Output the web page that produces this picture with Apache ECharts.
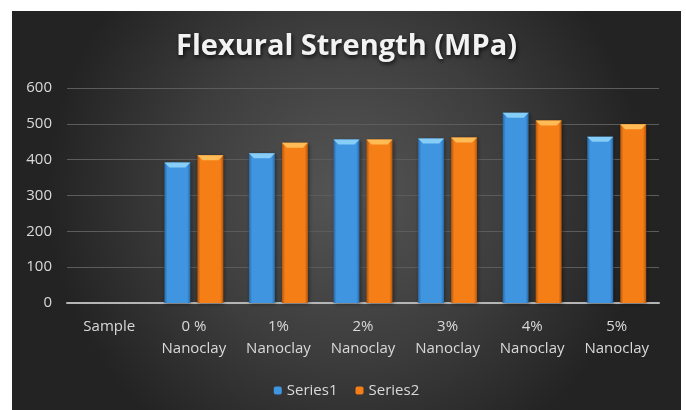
<!DOCTYPE html>
<html>
<head>
<meta charset="utf-8">
<script src="https://cdn.jsdelivr.net/npm/echarts@6/dist/echarts.min.js"></script>
<style>
  html, body { margin: 0; padding: 0; background: #ffffff; }
  #chart { position: absolute; left: 12px; top: 11px; width: 669px; height: 399px; }
</style>
</head>
<body>
<div id="chart"></div>
<script>
// Sample groups along the x axis
const categories = ['Sample', '0 %\nNanoclay', '1%\nNanoclay', '2%\nNanoclay', '3%\nNanoclay', '4%\nNanoclay', '5%\nNanoclay'];
// Flexural strength (MPa) for each group
const series1 = ['-', 392, 418, 456, 459, 531, 464];
const series2 = ['-', 412, 447, 456, 462, 509, 499];
const seriesNames = ['Series1', 'Series2'];
const yTicks = { min: 0, max: 600, interval: 100 };

const palette = [
  { body: '#3f95e0', edge: '#2a68a3', top: '#86cdf7' },
  { body: '#f57e17', edge: '#b2560c', top: '#ffbb55' }
];

const chart = echarts.init(document.getElementById('chart'));

// One bevelled column per data point, placed through the category/value scales
function makeRender(idx) {
  return function (params, api) {
    const v = api.value(1);
    if (v === '-' || v == null || isNaN(v)) return null;
    const cat = api.value(0);
    const top = api.coord([cat, v]);
    const base = api.coord([cat, 0]);
    const barW = 26, gap = 7;
    const cx = top[0] + (idx === 0 ? -(barW + gap) / 2 : (barW + gap) / 2);
    const x0 = cx - barW / 2;
    const h = base[1] - top[1];
    const c = palette[idx];
    const bevel = 5;
    return {
      type: 'group',
      children: [
        {
          type: 'rect',
          shape: { x: x0, y: top[1], width: barW, height: h },
          style: {
            fill: new echarts.graphic.LinearGradient(0, 0, 1, 0, [
              { offset: 0, color: c.edge },
              { offset: 0.12, color: c.body },
              { offset: 0.88, color: c.body },
              { offset: 1, color: c.edge }
            ]),
            shadowBlur: 4,
            shadowColor: 'rgba(0,0,0,0.45)',
            shadowOffsetX: 1,
            shadowOffsetY: 1
          }
        },
        {
          type: 'polygon',
          shape: {
            points: [
              [x0, top[1]], [x0 + barW, top[1]],
              [x0 + barW - bevel, top[1] + bevel], [x0 + bevel, top[1] + bevel]
            ]
          },
          style: { fill: c.top }
        }
      ]
    };
  };
}

const seriesData = [series1, series2];

chart.setOption({
  backgroundColor: new echarts.graphic.RadialGradient(0.5, 0.45, 0.75, [
    { offset: 0, color: '#555555' },
    { offset: 0.55, color: '#3d3d3d' },
    { offset: 1, color: '#232323' }
  ]),
  textStyle: { fontFamily: 'Open Sans' },
  title: {
    text: 'Flexural Strength (MPa)',
    left: 'center',
    top: 15,
    textStyle: {
      color: '#f2f2f2',
      fontFamily: 'Open Sans',
      fontWeight: 'bold',
      fontSize: 29,
      lineHeight: 32,
      textShadowColor: 'rgba(0,0,0,0.8)',
      textShadowBlur: 4,
      textShadowOffsetX: 1,
      textShadowOffsetY: 2
    }
  },
  legend: {
    data: seriesNames,
    top: 367,
    left: 'center',
    itemWidth: 8,
    itemHeight: 8,
    itemGap: 18,
    textStyle: { color: '#d9d9d9', fontSize: 15, fontFamily: 'Open Sans' }
  },
  grid: { left: 55, top: 77, width: 592, height: 215, containLabel: false },
  xAxis: {
    type: 'category',
    data: categories,
    axisLine: { show: true, lineStyle: { color: '#b5b5b5', width: 2 } },
    axisTick: { show: false },
    axisLabel: {
      color: '#d9d9d9',
      fontSize: 15,
      lineHeight: 22,
      margin: 13,
      interval: 0,
      fontFamily: 'Open Sans'
    }
  },
  yAxis: {
    type: 'value',
    min: yTicks.min,
    max: yTicks.max,
    interval: yTicks.interval,
    axisLine: { show: false },
    axisTick: { show: false },
    splitLine: { lineStyle: { color: '#5c5c5c', width: 1 } },
    axisLabel: { color: '#d9d9d9', fontSize: 15, margin: 15, fontFamily: 'Open Sans' }
  },
  series: seriesData.map((vals, i) => ({
    name: seriesNames[i],
    type: 'custom',
    renderItem: makeRender(i),
    encode: { x: 0, y: 1 },
    itemStyle: { color: palette[i].body },
    data: vals.map((v, j) => [j, v])
  }))
});
</script>
</body>
</html>
